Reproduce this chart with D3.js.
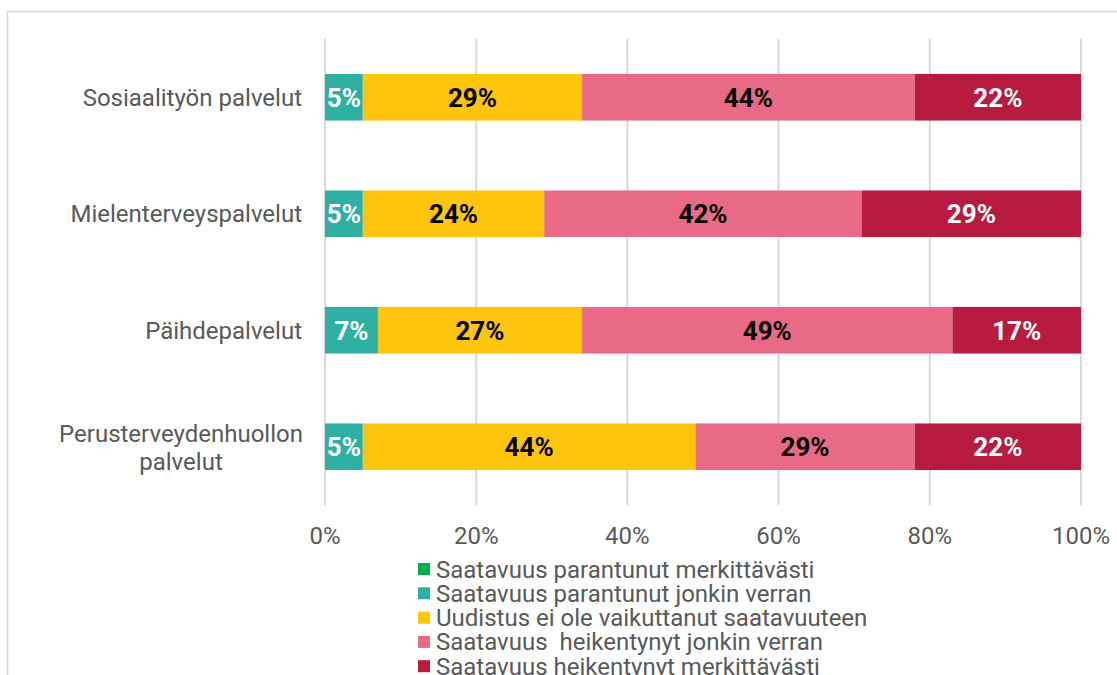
<!DOCTYPE html>
<html>
<head>
<meta charset="utf-8">
<script src="https://d3js.org/d3.v7.min.js"></script>
<style>
  body { margin: 0; background: white; }
  text { font-family: Roboto, "Noto Sans", sans-serif; }
</style>
</head>
<body>
<div id="chart"></div>
<script>
var categories = ["Sosiaalityön palvelut", "Mielenterveyspalvelut", "Päihdepalvelut", "Perusterveydenhuollon palvelut"];
var seriesNames = [
  "Saatavuus parantunut merkittävästi",
  "Saatavuus parantunut jonkin verran",
  "Uudistus ei ole vaikuttanut saatavuuteen",
  "Saatavuus  heikentynyt jonkin verran",
  "Saatavuus heikentynyt merkittävästi"
];
var merkParantunut = [0, 0, 0, 0];
var jonkinParantunut = [5, 5, 7, 5];
var eiVaikutusta = [29, 24, 27, 44];
var jonkinHeikentynyt = [44, 42, 49, 29];
var merkHeikentynyt = [22, 29, 17, 22];
var tickLabels = ["0%", "20%", "40%", "60%", "80%", "100%"];

var colors = ["#00B050", "#2EAFA4", "#FFC40C", "#E96A86", "#B71C40"];
var labelColors = ["#fff", "#fff", "#000", "#000", "#fff"];

var width = 1117, height = 675;
var svg = d3.select("#chart").append("svg")
  .attr("width", width).attr("height", height);

// frame
svg.append("rect")
  .attr("x", 7.5).attr("y", 11.5)
  .attr("width", 1130).attr("height", 700)
  .attr("fill", "white").attr("stroke", "#d9d9d9").attr("stroke-width", 1.5);

var x = d3.scaleLinear().domain([0, 100]).range([325, 1081]);
var y = d3.scaleBand().domain(categories).range([39, 505]).paddingInner(0.6).paddingOuter(0.3);

// gridlines
svg.append("g").selectAll("line")
  .data(d3.range(0, 101, 20))
  .enter().append("line")
  .attr("x1", function(d) { return x(d); }).attr("x2", function(d) { return x(d); })
  .attr("y1", 39).attr("y2", 505)
  .attr("stroke", "#d9d9d9").attr("stroke-width", 2);

// axis tick labels
svg.append("g").selectAll("text")
  .data(tickLabels)
  .enter().append("text")
  .attr("x", function(d, i) { return x(i * 20); })
  .attr("y", 544)
  .attr("text-anchor", "middle")
  .attr("font-size", 24)
  .attr("fill", "#595959")
  .text(function(d) { return d; });

var series = [merkParantunut, jonkinParantunut, eiVaikutusta, jonkinHeikentynyt, merkHeikentynyt];
var stacked = categories.map(function(c, i) {
  var acc = 0;
  return series.map(function(s, k) {
    var seg = { cat: c, k: k, v: s[i], x0: acc, x1: acc + s[i] };
    acc += s[i];
    return seg;
  });
});
var segs = [].concat.apply([], stacked);

svg.append("g").selectAll("rect")
  .data(segs)
  .enter().append("rect")
  .attr("x", function(d) { return x(d.x0); })
  .attr("y", function(d) { return y(d.cat); })
  .attr("width", function(d) { return x(d.x1) - x(d.x0); })
  .attr("height", y.bandwidth())
  .attr("fill", function(d) { return colors[d.k]; });

svg.append("g").selectAll("text")
  .data(segs.filter(function(d) { return d.v > 0; }))
  .enter().append("text")
  .attr("x", function(d) { return (x(d.x0) + x(d.x1)) / 2; })
  .attr("y", function(d) { return y(d.cat) + y.bandwidth() / 2 + 9.5; })
  .attr("text-anchor", "middle")
  .attr("font-size", 26)
  .attr("font-weight", "bold")
  .attr("fill", function(d) { return labelColors[d.k]; })
  .text(function(d) { return d.v + "%"; });

// category labels
var catG = svg.append("g");
categories.forEach(function(c) {
  var cy = y(c) + y.bandwidth() / 2;
  if (c === "Perusterveydenhuollon palvelut") {
    var t = catG.append("text")
      .attr("text-anchor", "middle")
      .attr("font-size", 24)
      .attr("fill", "#595959");
    t.append("tspan").attr("x", 181).attr("y", cy - 5).text("Perusterveydenhuollon");
    t.append("tspan").attr("x", 181).attr("y", cy + 23).text("palvelut");
  } else {
    catG.append("text")
      .attr("x", 302).attr("y", cy + 8.5)
      .attr("text-anchor", "end")
      .attr("font-size", 24)
      .attr("fill", "#595959")
      .text(c);
  }
});

// legend
var legend = svg.append("g").selectAll("g")
  .data(seriesNames)
  .enter().append("g")
  .attr("transform", function(d, i) { return "translate(418," + (569 + i * 24.3) + ")"; });
legend.append("rect")
  .attr("x", 0).attr("y", -6).attr("width", 12).attr("height", 12)
  .attr("fill", function(d, i) { return colors[i]; });
legend.append("text")
  .attr("x", 18).attr("y", 8.5)
  .attr("font-size", 24)
  .attr("fill", "#595959")
  .attr("xml:space", "preserve")
  .style("white-space", "pre")
  .text(function(d) { return d; });
</script>
</body>
</html>
